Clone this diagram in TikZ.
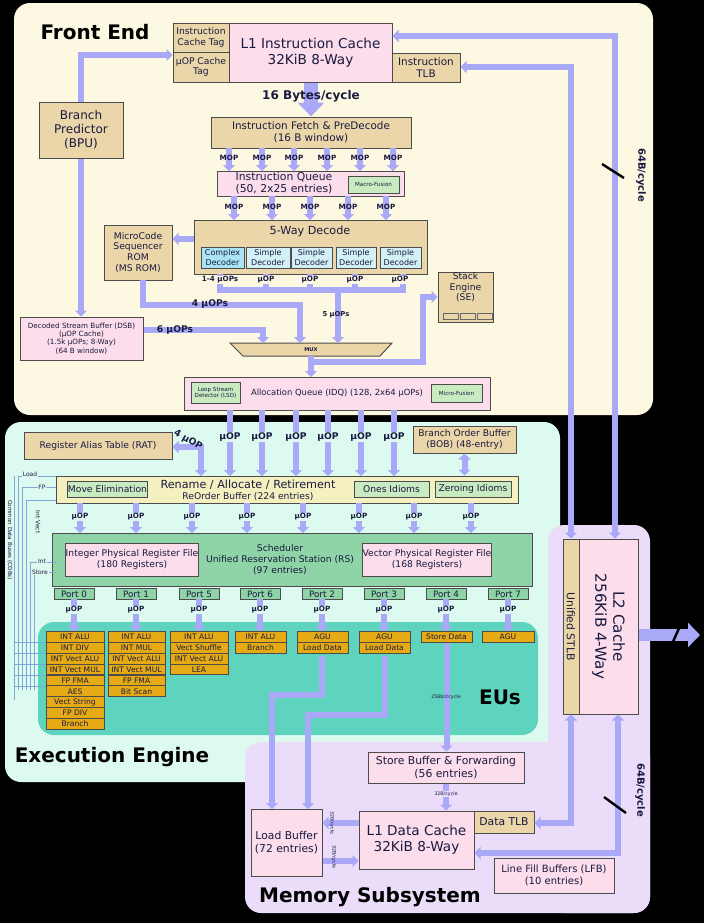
\documentclass[tikz,border=0pt]{standalone}
\usepackage{fontspec}
\setmainfont{DejaVu Sans}
\usetikzlibrary{arrows.meta, positioning, calc}
\definecolor{FEbg}{HTML}{FDF8E1}
\definecolor{EEbg}{HTML}{DDFAF0}
\definecolor{MSbg}{HTML}{EBDCFA}
\definecolor{EUbg}{HTML}{5ED3BE}
\definecolor{CTan}{HTML}{EAD6A8}
\definecolor{CPink}{HTML}{FBDDEB}
\definecolor{CGrn}{HTML}{C9EBC2}
\definecolor{CBlu}{HTML}{D2F0F5}
\definecolor{CCpx}{HTML}{A9E3F5}
\definecolor{COrng}{HTML}{E6AA14}
\definecolor{CSch}{HTML}{8ED4A6}
\definecolor{CRen}{HTML}{F4F0C0}
\definecolor{CLav}{HTML}{A9A9F8}
\definecolor{CCdb}{HTML}{7FA8D8}
\definecolor{CInk}{HTML}{1A1A40}

\newcommand\fsz[2]{\fontsize{#1}{#2}\selectfont}
% box from corner (x1,y1) to (x2,y2), in pixels
\newcommand\bx[7]{\node[box,#1,minimum width={(#5-#3)*0.5pt},minimum height={(#6-#4)*0.5pt}] (#2) at ({(#3+#5)/2},{(#4+#6)/2}) {#7};}

\tikzset{
    box/.style={draw=black!70, line width=0.5pt, align=center, inner sep=0pt, text=CInk, font=\fsz{4.6}{5.4}},
    tan/.style={fill=CTan}, pink/.style={fill=CPink}, grn/.style={fill=CGrn},
    panel/.style={rounded corners=8pt},
    bus/.style={draw=CLav, line width=4pt, -{Triangle[length=4pt,width=7.5pt]}},
    sbus/.style={draw=CLav, line width=3pt, -{Triangle[length=3pt,width=6pt]}},
    lbl/.style={font=\bfseries\fsz{3.6}{4}, text=CInk},
    eu/.style={box, fill=COrng, minimum height=5.4pt, font=\fsz{3.8}{4.2}},
    cdb/.style={draw=CCdb, line width=0.4pt},
    title/.style={font=\bfseries\fsz{10}{12}, text=black},
}

\begin{document}
\begin{tikzpicture}[x=0.5pt, y=-0.5pt]
    \useasboundingbox (0,0) rectangle (704,923);
    \fill[black] (0,0) rectangle (704,923);

    % Panels
    \fill[FEbg, panel] (14,3) rectangle (653,415);
    \fill[EEbg, panel] (5,422) rectangle (560,782);
    \fill[EUbg, panel] (38,622) rectangle (538,735);
    \fill[MSbg, panel] (245,742) rectangle (650,913);
    \fill[MSbg, panel] (548,525) rectangle (650,913);
    \node[title] at (95,32) {Front End};
    \node[title] at (112,757) {Execution Engine};
    \node[title] at (370,897) {Memory Subsystem};
    \node[title] at (500,697) {EUs};

    % Front end blocks
    \bx{tan}{ictag}{173}{23}{229}{52}{Instruction\\Cache Tag}
    \bx{tan}{uoptag}{173}{52}{229}{82}{µOP Cache\\Tag}
    \bx{pink, font=\fsz{6.8}{8}}{l1i}{229}{23}{392}{82}{L1 Instruction Cache\\32KiB 8-Way}
    \bx{tan, font=\fsz{5.2}{6}}{itlb}{392}{53}{460}{82}{Instruction\\TLB}
    \bx{tan, font=\fsz{6}{7}}{bpu}{39}{102}{123}{158}{Branch\\Predictor\\(BPU)}
    \bx{tan, font=\fsz{5.2}{6}}{fetch}{211}{117}{411}{148}{Instruction Fetch \& PreDecode\\(16 B window)}
    \bx{pink}{iq}{217}{171}{404}{196}{}
    \node[text=CInk, align=center, font=\fsz{5.4}{4.2}] at (284,183) {Instruction Queue\\(50, 2x25 entries)};
    \bx{grn, font=\fsz{2.8}{3}}{macro}{348}{176}{399}{193}{Macro-Fusion}
    \bx{tan}{dec}{194}{220}{427}{274}{}
    \node[text=CInk, font=\fsz{5.6}{6}] at (310,231) {5-Way Decode};
    \bx{fill=CCpx, font=\fsz{4}{4.8}}{cdec}{201}{247}{244}{268}{Complex\\Decoder}
    \foreach \xa/\xb [count=\i] in {246/290, 291/332, 336/376, 380/421}
        \bx{fill=CBlu, font=\fsz{4}{4.8}}{sdec\i}{\xa}{247}{\xb}{268}{Simple\\Decoder};
    \bx{tan}{msrom}{104}{225}{172}{280}{MicroCode\\Sequencer\\ROM\\(MS ROM)}
    \bx{tan}{se}{438}{272}{493}{322}{Stack\\Engine\\(SE)\\[5pt]}
    \foreach \x in {443,460,477}
        \draw[black!60, fill=CTan, line width=0.3pt] (\x,313) rectangle +(15,6);
    \bx{pink, font=\fsz{3.6}{4.2}}{dsb}{20}{317}{143}{360}{Decoded Stream Buffer (DSB)\\(µOP Cache)\\(1.5k µOPs; 8-Way)\\(64 B window)}
    \fill[CTan, draw=black!70, line width=0.5pt] (230,343) -- (392,343) -- (380,356) -- (243,356) -- cycle;
    \node[lbl, font=\bfseries\fsz{2.6}{3}] (mux) at (311,350) {MUX};
    \bx{pink, font=\fsz{4.2}{5}}{idq}{184}{377}{490}{410}{\hspace{30pt}Allocation Queue (IDQ) (128, 2x64 µOPs)\hspace{30pt}}
    \bx{grn, font=\fsz{2.8}{3.2}}{lsd}{191}{382}{240}{403}{Loop Stream\\Detector (LSD)}
    \bx{grn, font=\fsz{2.8}{3}}{mfus}{431}{384}{482}{402}{Micro-Fusion}

    % Front end buses
    \draw[bus, line width=7pt, -{Triangle[length=7pt,width=13pt]}] (l1i.south -| fetch.north) -- (fetch.north);
    \node[lbl, font=\bfseries\fsz{6}{7}] at (311,96) {16 Bytes/cycle};
    \draw[sbus] (bpu.north) |- (ictag.west |- 0,55);
    \draw[sbus] (bpu.south) -- (dsb.north -| bpu.south);
    \foreach \x in {229,262,294,327,360,393} {
        \draw[sbus] (\x,148) -- (\x,171);
        \node[lbl] at (\x,158) {MOP};
    }
    \foreach \x in {234,272,310,348,386} {
        \draw[sbus] (\x,196) -- (\x,220);
        \node[lbl] at (\x,207) {MOP};
    }
    \draw[sbus] (dec.west |- 0,239) -- (msrom.east |- 0,239);
    \draw[sbus, -] (220,274) -- (220,290) -- (403,290) -- (403,274);
    \foreach \x in {266,310,355} \draw[sbus, -] (\x,274) -- (\x,290);
    \draw[sbus] (338,290) -- (338,343);
    \node[lbl, font=\bfseries\fsz{3.4}{4}] at (336,315) {5 µOPs};
    \draw[sbus] (143,280) |- (300,305) -- (300,343);
    \node[lbl, font=\bfseries\fsz{4.6}{5}] at (210,304) {4 µOPs};
    \draw[sbus] (dsb.east |- 0,330) -| (263,343);
    \node[lbl, font=\bfseries\fsz{4.6}{5}] at (175,330) {6 µOPs};
    \foreach \x/\t in {220/1-4 µOPs, 266/µOP, 310/µOP, 355/µOP, 400/µOP}
        \node[lbl, fill=FEbg, inner sep=0.5pt] at (\x,280) {\t};
    \draw[sbus] (311,362) -| (423,297) -- (se.west |- 0,297);
    \draw[sbus] (311,356) -- (311,377);

    % Execution engine blocks
    \bx{tan, font=\fsz{4.6}{5}}{rat}{24}{432}{172}{459}{Register Alias Table (RAT)}
    \bx{tan}{bob}{413}{426}{516}{453}{Branch Order Buffer\\(BOB) (48-entry)}
    \bx{fill=CRen}{ren}{56}{476}{518}{503}{}
    \node[text=CInk, align=center, font=\fsz{5.6}{5.5}] at (248,490) {Rename / Allocate / Retirement\\{\fsz{4.6}{5}ReOrder Buffer (224 entries)}};
    \bx{grn}{movel}{68}{481}{147}{497}{Move Elimination}
    \bx{grn}{ones}{354}{481}{429}{497}{Ones Idioms}
    \bx{grn}{zero}{435}{481}{511}{497}{Zeroing Idioms}
    \bx{fill=CSch}{sch}{52}{533}{532}{586}{}
    \node[text=CInk, align=center, font=\fsz{4.6}{5.5}] at (280,560) {Scheduler\\Unified Reservation Station (RS)\\(97 entries)};
    \bx{pink}{iprf}{67}{543}{197}{576}{Integer Physical Register File\\(180 Registers)}
    \bx{pink}{vprf}{363}{543}{491}{576}{Vector Physical Register File\\(168 Registers)}

    % Execution engine buses
    \foreach \x in {230,262,296,328,361,394} {
        \draw[sbus] (\x,410) -- (\x,476);
        \node[lbl, fill=EEbg, inner sep=0.5pt, font=\bfseries\fsz{4.6}{5}] at (\x,437) {µOP};
    }
    \draw[sbus, {Triangle[length=3pt,width=6pt]}-{Triangle[length=3pt,width=6pt]}] (rat.east |- 0,447) -- (201,447) -- (201,476);
    \node[lbl, rotate=-30, font=\bfseries\fsz{4.6}{5}] at (188,440) {4 µOP};
    \draw[sbus, {Triangle[length=3pt,width=6pt]}-{Triangle[length=3pt,width=6pt]}] (bob.south) -- (bob.south |- ren.north);
    \foreach \x in {80,136,192,247,303,359,414,471} {
        \draw[sbus] (\x,503) -- (\x,533);
        \node[lbl, fill=EEbg, inner sep=0.5pt] at (\x,517) {µOP};
    }

    % Ports and EUs
    \foreach \x [count=\i from 0] in {74,136,199,260,322,384,446,508} {
        \node[box, fill=CSch, minimum width=20pt, minimum height=5.5pt] (port\i) at (\x,594) {};
        \draw[sbus] (\x,599) -- (\x,632);
        \node[lbl, fill=EEbg, inner sep=0.5pt] at (\x,610) {µOP};
    }
    \foreach \i/\p in {0/0,1/1,2/5,3/6,4/2,5/3,6/4,7/7}
        \node[text=CInk, font=\fsz{4.4}{5}] at (port\i) {Port \p};
    \foreach \t [count=\i from 0] in {INT ALU,INT DIV,INT Vect ALU,INT Vect MUL,FP FMA,AES,Vect String,FP DIV,Branch}
        \node[eu, minimum width=29pt] (eua\i) at (75,{637+\i*10.85}) {\t};
    \foreach \t [count=\i from 0] in {INT ALU,INT MUL,INT Vect ALU,INT Vect MUL,FP FMA,Bit Scan}
        \node[eu, minimum width=28.5pt] (eub\i) at (136.5,{637+\i*10.85}) {\t};
    \foreach \t [count=\i from 0] in {INT ALU,Vect Shuffle,INT Vect ALU,LEA}
        \node[eu, minimum width=29pt] (euc\i) at (199,{637+\i*10.85}) {\t};
    \foreach \t [count=\i from 0] in {INT ALU,Branch}
        \node[eu, minimum width=25.5pt] (eud\i) at (260.5,{637+\i*10.85}) {\t};
    \foreach \t [count=\i from 0] in {AGU,Load Data}
        \node[eu, minimum width=25.5pt] (eue\i) at (322.5,{637+\i*10.85}) {\t};
    \foreach \t [count=\i from 0] in {AGU,Load Data}
        \node[eu, minimum width=25.5pt] (euf\i) at (384.5,{637+\i*10.85}) {\t};
    \node[eu, minimum width=25.5pt] (eug) at (446.5,637) {Store Data};
    \node[eu, minimum width=26pt] (euh) at (508,637) {AGU};

    % Common data buses
    \foreach \x/\y in {18/476, 22/487, 26/500, 30/562, 34/572}
        \draw[cdb] (\x,690) |- (56,\y);
    \foreach \y in {642,653,664,675,686}
        \draw[cdb] (14,\y) -- (46,\y);
    \draw[cdb] (14,476) -- (14,700);
    \node[rotate=-90, font=\fsz{2.8}{3}, text=CInk] at (10,540) {Common Data Buses (CDBs)};
    \node[font=\fsz{3}{3}, text=CInk, fill=EEbg, inner sep=0.3pt] at (30,474) {Load};
    \node[font=\fsz{3}{3}, text=CInk, fill=EEbg, inner sep=0.3pt] at (42,487) {FP};
    \node[rotate=-90, font=\fsz{3}{3}, text=CInk] at (38,522) {Int Vect};
    \node[font=\fsz{3}{3}, text=CInk, fill=EEbg, inner sep=0.3pt] at (42,561) {Int};
    \node[font=\fsz{3}{3}, text=CInk, fill=EEbg, inner sep=0.3pt] at (40,572) {Store};

    % Memory subsystem blocks
    \bx{tan}{stlb}{563}{539}{579}{714}{}
    \node[rotate=-90, text=CInk, font=\fsz{5.4}{6}] at (stlb) {Unified STLB};
    \bx{pink}{l2}{579}{539}{638}{714}{}
    \node[rotate=-90, text=CInk, align=center, font=\fsz{7.6}{9}] at (l2) {L2 Cache\\256KiB 4-Way};
    \bx{pink, font=\fsz{5.4}{6.4}}{sbuf}{368}{752}{524}{783}{Store Buffer \& Forwarding\\(56 entries)}
    \bx{pink, font=\fsz{5.4}{6.4}}{lbuf}{251}{809}{322}{876}{Load Buffer\\(72 entries)}
    \bx{pink, font=\fsz{6.8}{8}}{l1d}{359}{811}{474}{869}{L1 Data Cache\\32KiB 8-Way}
    \bx{tan, font=\fsz{5.4}{6}}{dtlb}{474}{811}{534}{833}{Data TLB}
    \bx{pink, font=\fsz{5}{6}}{lfb}{494}{858}{614}{893}{Line Fill Buffers (LFB)\\(10 entries)}

    % Memory buses
    \draw[sbus] (322,656) -- (322,695) -- (272,695) -- (272,809);
    \draw[sbus] (385,656) -- (385,715) -- (308,715) -- (308,809);
    \draw[sbus] (eug.south) -- (sbuf.north -| eug.south);
    \node[font=\fsz{2.4}{3}, text=CInk] at (446,697) {256bit/cycle};
    \draw[sbus] (sbuf.south -| 446,0) -- (l1d.north -| 446,0);
    \node[font=\fsz{2.4}{3}, text=CInk, fill=MSbg, inner sep=0.3pt] at (446,794) {32B/cycle};
    \draw[sbus] (l1d.west |- 0,823) -- (lbuf.east |- 0,823);
    \draw[sbus] (lbuf.east |- 0,861) -- (l1d.west |- 0,861);
    \node[rotate=-90, font=\fsz{2.4}{3}, text=CInk] at (332,823) {32B/cycle};
    \node[rotate=-90, font=\fsz{2.4}{3}, text=CInk] at (334,857) {32B/cycle};
    \draw[sbus, {Triangle[length=3pt,width=6pt]}-{Triangle[length=3pt,width=6pt]}] (stlb.south) |- (dtlb.east |- 0,823);
    \draw[sbus, {Triangle[length=3pt,width=6pt]}-{Triangle[length=3pt,width=6pt]}] (l2.south -| 618,0) |- (l1d.east |- 0,853);
    \node[rotate=-90, lbl, font=\bfseries\fsz{5}{6}] at (640,790) {64B/cycle};
    \draw[black, line width=1.2pt] (604,797) -- (626,813);
    \draw[sbus, {Triangle[length=3pt,width=6pt]}-{Triangle[length=3pt,width=6pt]}] (stlb.north -| 571,0) |- (itlb.east |- 0,67);
    \draw[sbus, {Triangle[length=3pt,width=6pt]}-{Triangle[length=3pt,width=6pt]}] (l2.north -| 615,0) |- (l1i.east |- 0,36);
    \node[rotate=-90, lbl, font=\bfseries\fsz{5}{6}] at (641,175) {64B/cycle};
    \draw[black, line width=1.2pt] (602,164) -- (624,178);
    \draw[bus, line width=6pt, -{Triangle[length=6pt,width=12pt]}] (l2.east |- 0,635) -- (700,635);
    \draw[black, line width=1.2pt] (672,644) -- (680,626);
\end{tikzpicture}
\end{document}
